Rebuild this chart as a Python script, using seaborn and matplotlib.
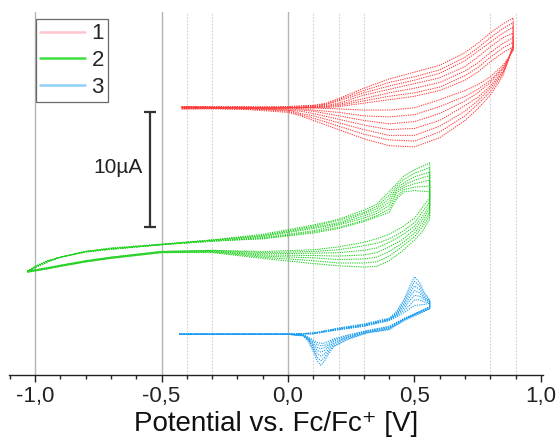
import numpy as np
import pandas as pd
import matplotlib
matplotlib.use("Agg")
import matplotlib.pyplot as plt
from matplotlib.lines import Line2D
from matplotlib.ticker import FuncFormatter, MultipleLocator
import seaborn as sns

# Potential grids (V vs Fc/Fc+) and currents (uA, offset per trace).
# Each row is one scan cycle, outermost first.
red_fwd_x = [-0.42, -0.2, 0.0, 0.1, 0.15, 0.2, 0.3, 0.4, 0.5, 0.6, 0.7, 0.75, 0.8, 0.85, 0.89]
red_fwd = [
    [23.5, 23.5, 23.6, 23.7, 23.9, 24.3, 25.2, 26.0, 26.6, 27.2, 28.3, 29.1, 30.0, 30.8, 31.3],
    [23.6, 23.5, 23.6, 23.7, 23.8, 24.2, 25.0, 25.7, 26.2, 26.8, 27.9, 28.7, 29.6, 30.4, 30.9],
    [23.4, 23.5, 23.5, 23.6, 23.8, 24.1, 24.8, 25.4, 25.9, 26.5, 27.6, 28.4, 29.2, 30.0, 30.5],
    [23.5, 23.6, 23.5, 23.6, 23.7, 23.9, 24.6, 25.1, 25.6, 26.1, 27.1, 27.9, 28.8, 29.6, 30.0],
    [23.6, 23.5, 23.5, 23.6, 23.6, 23.8, 24.3, 24.8, 25.2, 25.7, 26.7, 27.4, 28.3, 29.1, 29.6],
    [23.5, 23.4, 23.5, 23.5, 23.6, 23.7, 24.1, 24.5, 24.8, 25.3, 26.3, 27.0, 27.9, 28.7, 29.2],
    [23.5, 23.5, 23.5, 23.5, 23.5, 23.6, 23.9, 24.2, 24.5, 25.0, 25.9, 26.6, 27.5, 28.3, 28.8],
]
red_rev_x = [0.89, 0.87, 0.85, 0.8, 0.75, 0.7, 0.6, 0.5, 0.4, 0.3, 0.2, 0.1, 0.05, 0.0, -0.2, -0.42]
red_rev = [
    [29.0, 27.6, 26.3, 24.6, 23.4, 22.4, 20.9, 20.1, 20.2, 20.8, 21.6, 22.4, 22.8, 23.1, 23.4, 23.5],
    [28.9, 27.6, 26.5, 24.9, 23.8, 22.8, 21.4, 20.6, 20.7, 21.2, 21.9, 22.6, 22.9, 23.2, 23.5, 23.6],
    [28.8, 27.6, 26.6, 25.2, 24.1, 23.2, 21.9, 21.1, 21.1, 21.6, 22.2, 22.8, 23.0, 23.3, 23.4, 23.4],
    [28.7, 27.7, 26.7, 25.4, 24.4, 23.7, 22.4, 21.7, 21.6, 22.0, 22.5, 23.0, 23.2, 23.3, 23.5, 23.5],
    [28.6, 27.7, 26.9, 25.7, 24.8, 24.1, 23.0, 22.3, 22.1, 22.4, 22.8, 23.2, 23.3, 23.4, 23.5, 23.5],
    [28.6, 27.8, 27.0, 25.9, 25.1, 24.5, 23.6, 22.9, 22.7, 22.8, 23.1, 23.3, 23.4, 23.5, 23.6, 23.6],
    [28.5, 27.8, 27.2, 26.2, 25.5, 25.0, 24.2, 23.5, 23.3, 23.3, 23.4, 23.5, 23.5, 23.5, 23.5, 23.5],
]

green_fwd_x = [-1.03, -1.0, -0.95, -0.9, -0.8, -0.7, -0.5, -0.3, -0.1,
               0.1, 0.2, 0.3, 0.35, 0.4, 0.43, 0.46, 0.5, 0.56]
green_fwd = [
    [9.2, 9.7, 10.2, 10.5, 11.0, 11.3, 11.65, 12.0, 12.5, 13.3, 13.8, 14.6, 15.1, 16.2, 16.9, 17.6, 18.1, 18.7],
    [9.2, 9.7, 10.2, 10.5, 11.0, 11.3, 11.6, 12.0, 12.4, 13.2, 13.7, 14.4, 14.9, 15.9, 16.7, 17.3, 17.8, 18.3],
    [9.25, 9.7, 10.2, 10.5, 11.0, 11.25, 11.6, 12.0, 12.35, 13.1, 13.5, 14.3, 14.7, 15.6, 16.5, 17.0, 17.5, 17.9],
    [9.3, 9.65, 10.15, 10.5, 11.0, 11.2, 11.6, 11.95, 12.3, 13.0, 13.4, 14.1, 14.5, 15.3, 16.3, 16.8, 17.2, 17.6],
    [9.3, 9.65, 10.1, 10.5, 10.95, 11.2, 11.6, 11.9, 12.2, 12.8, 13.3, 13.9, 14.3, 15.0, 16.1, 16.6, 16.9, 17.2],
    [9.3, 9.6, 10.1, 10.5, 10.95, 11.2, 11.6, 11.9, 12.15, 12.7, 13.1, 13.7, 14.1, 14.7, 15.8, 16.4, 16.6, 16.7],
    [9.3, 9.6, 10.1, 10.5, 11.0, 11.2, 11.6, 11.9, 12.1, 12.6, 13.0, 13.6, 14.0, 14.4, 15.6, 16.2, 16.3, 16.2],
]
green_rev_x = [0.56, 0.53, 0.5, 0.45, 0.4, 0.35, 0.3, 0.2, 0.1,
               -0.1, -0.3, -0.5, -0.7, -0.8, -0.9, -0.95, -1.0, -1.03]
green_rev = [
    [13.8, 12.7, 12.0, 11.0, 10.2, 9.7, 9.65, 9.75, 9.95, 10.4, 10.9, 10.9, 10.4, 10.1, 9.7, 9.5, 9.3, 9.2],
    [14.1, 13.1, 12.3, 11.4, 10.6, 10.1, 10.0, 10.0, 10.2, 10.5, 10.95, 10.9, 10.4, 10.1, 9.7, 9.5, 9.3, 9.2],
    [14.4, 13.4, 12.6, 11.7, 11.0, 10.5, 10.35, 10.3, 10.45, 10.6, 11.0, 10.95, 10.45, 10.1, 9.75, 9.5, 9.35, 9.25],
    [14.7, 13.7, 12.9, 12.0, 11.4, 10.9, 10.7, 10.6, 10.65, 10.7, 11.0, 10.95, 10.45, 10.15, 9.75, 9.55, 9.35, 9.3],
    [15.0, 14.0, 13.2, 12.4, 11.8, 11.3, 11.1, 10.9, 10.85, 10.8, 11.05, 11.0, 10.5, 10.15, 9.8, 9.55, 9.4, 9.3],
    [15.3, 14.4, 13.5, 12.7, 12.1, 11.7, 11.5, 11.15, 11.0, 10.9, 11.1, 11.0, 10.5, 10.2, 9.8, 9.6, 9.4, 9.3],
    [15.65, 14.8, 13.9, 13.1, 12.5, 12.1, 11.8, 11.4, 11.15, 11.0, 11.1, 11.0, 10.5, 10.2, 9.8, 9.6, 9.4, 9.3],
]

blue_fwd_x = [-0.43, 0.0, 0.1, 0.2, 0.3, 0.4, 0.43, 0.46, 0.48, 0.5, 0.52, 0.54, 0.56]
blue_fwd = [
    [3.8, 3.8, 3.9, 4.35, 4.7, 5.2, 5.8, 6.9, 7.9, 8.8, 8.3, 7.4, 6.8],
    [3.8, 3.8, 3.9, 4.3, 4.65, 5.15, 5.7, 6.7, 7.6, 8.4, 8.0, 7.2, 6.75],
    [3.8, 3.8, 3.9, 4.3, 4.6, 5.1, 5.6, 6.5, 7.3, 8.0, 7.7, 7.0, 6.7],
    [3.8, 3.8, 3.9, 4.25, 4.6, 5.1, 5.55, 6.3, 7.0, 7.6, 7.4, 6.9, 6.65],
    [3.8, 3.8, 3.85, 4.25, 4.55, 5.05, 5.5, 6.1, 6.7, 7.2, 7.1, 6.8, 6.6],
    [3.8, 3.8, 3.85, 4.2, 4.5, 5.0, 5.4, 5.9, 6.3, 6.8, 6.8, 6.6, 6.55],
    [3.8, 3.8, 3.85, 4.2, 4.5, 5.0, 5.3, 5.7, 6.0, 6.3, 6.35, 6.4, 6.5],
]
blue_rev_x = [0.56, 0.53, 0.5, 0.46, 0.4, 0.31, 0.23, 0.18, 0.16, 0.145, 0.13,
              0.115, 0.1, 0.08, 0.06, 0.0, -0.43]
blue_rev = [
    [6.0, 5.7, 5.4, 5.0, 4.2, 3.9, 3.3, 2.7, 2.1, 1.5, 1.1, 1.5, 2.3, 3.2, 3.65, 3.8, 3.8],
    [6.05, 5.75, 5.45, 5.05, 4.25, 3.95, 3.35, 2.8, 2.3, 1.8, 1.5, 1.8, 2.5, 3.3, 3.7, 3.8, 3.8],
    [6.1, 5.8, 5.5, 5.1, 4.3, 3.95, 3.45, 2.95, 2.5, 2.1, 1.9, 2.1, 2.7, 3.35, 3.7, 3.8, 3.8],
    [6.1, 5.8, 5.5, 5.1, 4.35, 4.0, 3.5, 3.05, 2.7, 2.4, 2.25, 2.4, 2.85, 3.4, 3.7, 3.8, 3.8],
    [6.15, 5.85, 5.55, 5.15, 4.4, 4.05, 3.55, 3.2, 2.85, 2.65, 2.55, 2.65, 3.0, 3.45, 3.7, 3.8, 3.8],
    [6.15, 5.85, 5.55, 5.15, 4.45, 4.1, 3.65, 3.3, 3.0, 2.85, 2.8, 2.9, 3.15, 3.5, 3.75, 3.8, 3.8],
    [6.2, 5.9, 5.6, 5.2, 4.5, 4.1, 3.7, 3.4, 3.2, 3.05, 3.0, 3.1, 3.3, 3.55, 3.75, 3.8, 3.8],
]

series_names = ["1", "2", "3"]
line_colors = {"1": "#ff3b3b", "2": "#1fd11f", "3": "#1c9ef0"}
legend_colors = ["#ffc4cc", "#3ee03e", "#8fd0f5"]

grid_solid = [-1.0, -0.5, 0.0]
grid_dotted = [-0.4, -0.3, 0.1, 0.2, 0.3, 0.8, 0.9]


def build_frame(name, fwd_x, fwd, rev_x, rev):
    rows = []
    for i, (f, r) in enumerate(zip(fwd, rev)):
        xs = fwd_x + rev_x
        ys = f + r
        for k, (x, y) in enumerate(zip(xs, ys)):
            rows.append({"series": name, "cycle": f"{name}-{i}", "step": k,
                         "potential": x, "current": y})
    return pd.DataFrame(rows)


df = pd.concat([
    build_frame("1", red_fwd_x, red_fwd, red_rev_x, red_rev),
    build_frame("2", green_fwd_x, green_fwd, green_rev_x, green_rev),
    build_frame("3", blue_fwd_x, blue_fwd, blue_rev_x, blue_rev),
], ignore_index=True)

sns.set_style("white")
plt.rcParams["font.family"] = ["Liberation Sans", "DejaVu Sans"]

fig = plt.figure(figsize=(5.58, 4.37), dpi=100)
ax = fig.add_axes([0.0161, 0.1419, 0.957, 0.8307])

for gx in grid_solid:
    ax.axvline(gx, color="#b4b4b4", lw=1.0, zorder=0)
for gx in grid_dotted:
    ax.axvline(gx, color="#cfcfcf", lw=0.8, ls=(0, (1.5, 1.5)), zorder=0)

sns.lineplot(data=df, x="potential", y="current", hue="series", units="cycle",
             estimator=None, sort=False, palette=line_colors, legend=False,
             linewidth=0.75, linestyle=(0, (1.2, 1.0)), ax=ax)

# scale bar: 10 uA
ax.plot([-0.547, -0.547], [13.1, 23.1], color="#333333", lw=1.6,
        marker="_", markersize=9, markeredgewidth=1.6)
ax.text(-0.575, 18.3, "10µA", ha="right", va="center", fontsize=15, color="#222222")

ax.set_xlim(-1.103, 1.008)
ax.set_ylim(0.26, 31.83)
ax.set_yticks([])
ax.set_ylabel("")
ax.set_xlabel("Potential vs. Fc/Fc⁺ [V]", fontsize=20, labelpad=3, color="#111111")
ax.xaxis.set_major_locator(MultipleLocator(0.5))
ax.xaxis.set_minor_locator(MultipleLocator(0.1))
ax.xaxis.set_major_formatter(FuncFormatter(lambda v, p: f"{v:.1f}".replace(".", ",")))
ax.tick_params(axis="x", which="major", length=5, width=1, direction="out",
               labelsize=16, pad=3, colors="#222222", bottom=True)
ax.tick_params(axis="x", which="minor", length=3, width=1, direction="out", bottom=True)
for s in ["left", "top", "right"]:
    ax.spines[s].set_visible(False)
ax.spines["bottom"].set_color("#222222")
ax.spines["bottom"].set_linewidth(1)

handles = [Line2D([0], [0], color=c, lw=1.8) for c in legend_colors]
leg = ax.legend(handles, series_names, loc="upper left", bbox_to_anchor=(0.0503, 0.981),
                borderaxespad=0, fontsize=16, frameon=True, fancybox=False,
                handlelength=2.0, handletextpad=0.3, labelspacing=0.26,
                borderpad=0.2, markerfirst=True)
leg.get_frame().set_edgecolor("#444444")
leg.get_frame().set_linewidth(0.9)

fig.savefig("out.png", dpi=100)
